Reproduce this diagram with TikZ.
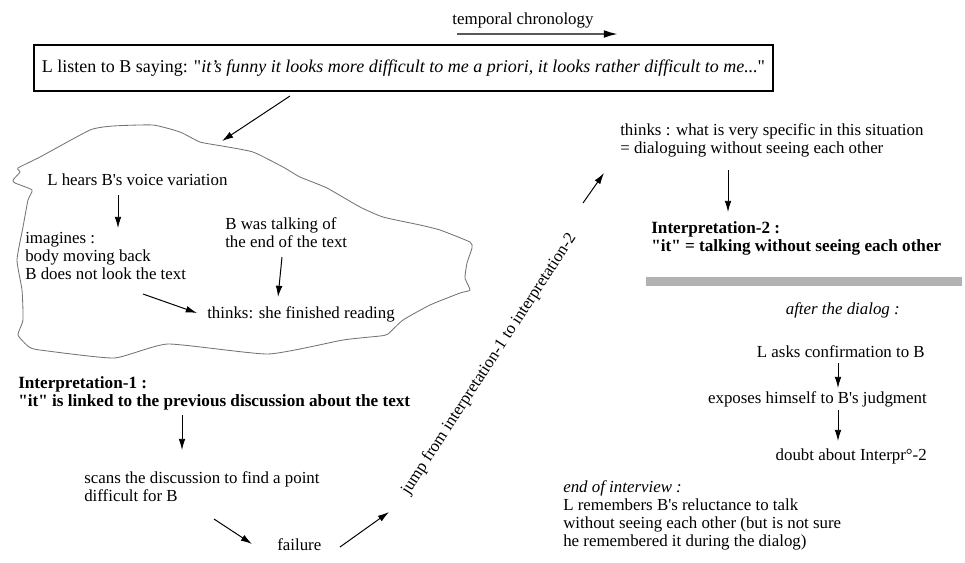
\documentclass[tikz,border=0pt]{standalone}
\usepackage{fontspec}
\setmainfont{Liberation Serif}[Ligatures=TeXOff]
\usetikzlibrary{arrows.meta}

\begin{document}
\begin{tikzpicture}
[x=0.025cm, y=-0.025cm,
 lineDecorate/.style={-{Latex[length=8pt,width=4.8pt]},line width=0.7pt},
 chronoDecorate/.style={-{Latex[length=10pt,width=5.5pt,color=black]},line width=1.4pt,draw=black!65},
 textDecorate/.style={inner sep=0pt,anchor=base west,align=left,font=\fontsize{12}{12.8}\selectfont},
 boldDecorate/.style={textDecorate,font=\fontsize{12.2}{12.8}\selectfont\bfseries},
 italDecorate/.style={textDecorate,font=\fontsize{12}{12.8}\selectfont\itshape},
 boxDecorate/.style={draw,line width=1.4pt,minimum width=18.475cm,minimum height=1.15cm,inner sep=0pt,font=\fontsize{12.8}{13}\selectfont},
 blobDecorate/.style={draw=black!55,line width=0.6pt,line join=round}]

 \useasboundingbox (0,0) rectangle (965,562);

 % top of the picture
 \node (chrono) at (523,24) [textDecorate,anchor=base] {temporal chronology};
 \coordinate (chronoStart) at (457,34);
 \coordinate (chronoEnd) at (618,34);
 \node (title) at (403.5,68) [boxDecorate] {L listen to B saying: "\textit{it’s funny it looks more difficult to me a priori, it looks rather difficult to me...}"};
 \coordinate (titleOut) at (290,96);
 \coordinate (blobIn) at (222,141);

 % the cloud
 \draw[blobDecorate] plot[smooth cycle,tension=0.3] coordinates {
   (18,168) (40,157) (90,130) (113,126) (153,125) (180,132) (200,142) (222,146)
   (253,152) (283,167) (300,177) (327,188) (360,207) (383,217) (420,225) (440,230)
   (470,242) (472,248) (467,263) (465,278) (470,290) (460,293) (430,305) (403,320)
   (388,334) (380,336) (343,340) (268,354) (168,344) (114,358) (40,350) (29,347)
   (18,335) (23,320) (22,290) (17,260) (23,227) (28,200) (32,190) (15,183)
   (13,180) (20,172)};
 \node (hears) at (47,185) [textDecorate] {L hears B's voice variation};
 \node (imagines) at (25,279) [textDecorate] {imagines :\\body moving back\\B does not look the text};
 \node (talking) at (225,247) [textDecorate] {B was talking of\\the end of the text};
 \node (finished) at (207,318) [textDecorate] {thinks: she finished reading};
 \coordinate (hearsOut) at (118,195);
 \coordinate (imaginesIn) at (118,228);
 \coordinate (imaginesOut) at (143,294);
 \coordinate (finishedIn) at (197,313);
 \coordinate (talkingOut) at (282,257);
 \coordinate (finishedTop) at (278,297);

 % interpretation 1
 \node (interA) at (18,406) [boldDecorate] {Interpretation-1 :\\"it" is linked to the previous discussion about the text};
 \node (scans) at (84,501) [textDecorate] {scans the discussion to find a point\\difficult for B};
 \node (failure) at (277,550) [textDecorate] {failure};
 \coordinate (interAOut) at (182,415);
 \coordinate (scansIn) at (182,450);
 \coordinate (scansOut) at (214,519);
 \coordinate (failureIn) at (252,544);
 \coordinate (failureOut) at (340,547);
 \coordinate (jumpIn) at (389,512);

 % the jump
 \node (jump) at (489,364) [textDecorate,anchor=center,rotate=57] {jump from interpretation-1 to interpretation-2};
 \coordinate (jumpOut) at (583,203);
 \coordinate (specIn) at (604,173);

 % interpretation 2
 \node (spec) at (620,153) [textDecorate] {thinks : what is very specific in this situation\\= dialoguing without seeing each other};
 \node (interB) at (651,251) [boldDecorate] {Interpretation-2 :\\"it" = talking without seeing each other};
 \coordinate (specOut) at (728,170);
 \coordinate (interBIn) at (728,212);
 \fill[black!30] (646,277) rectangle (962,286);

 % after the dialog
 \node (after) at (900,314) [italDecorate,anchor=base east] {after the dialog :};
 \node (asks) at (925,357) [textDecorate,anchor=base east] {L asks confirmation to B};
 \node (exposes) at (927,403) [textDecorate,anchor=base east] {exposes himself to B's judgment};
 \node (doubt) at (927,460) [textDecorate,anchor=base east] {doubt about Interpr°-2};
 \node (endint) at (563,492) [italDecorate] {end of interview :};
 \node (remembers) at (563,546) [textDecorate] {L remembers B's reluctance to talk\\without seeing each other (but is not sure\\he remembered it during the dialog)};
 \coordinate (asksOut) at (838,363);
 \coordinate (exposesIn) at (838,388);
 \coordinate (exposesOut) at (838,410);
 \coordinate (doubtIn) at (838,441);

\path
 (chronoStart) edge[chronoDecorate] (chronoEnd)
 (titleOut) edge[lineDecorate] (blobIn)
 (hearsOut) edge[lineDecorate] (imaginesIn)
 (imaginesOut) edge[lineDecorate] (finishedIn)
 (talkingOut) edge[lineDecorate] (finishedTop)
 (interAOut) edge[lineDecorate] (scansIn)
 (scansOut) edge[lineDecorate] (failureIn)
 (failureOut) edge[lineDecorate] (jumpIn)
 (jumpOut) edge[lineDecorate] (specIn)
 (specOut) edge[lineDecorate] (interBIn)
 (asksOut) edge[lineDecorate] (exposesIn)
 (exposesOut) edge[lineDecorate] (doubtIn);
\end{tikzpicture}
\end{document}
